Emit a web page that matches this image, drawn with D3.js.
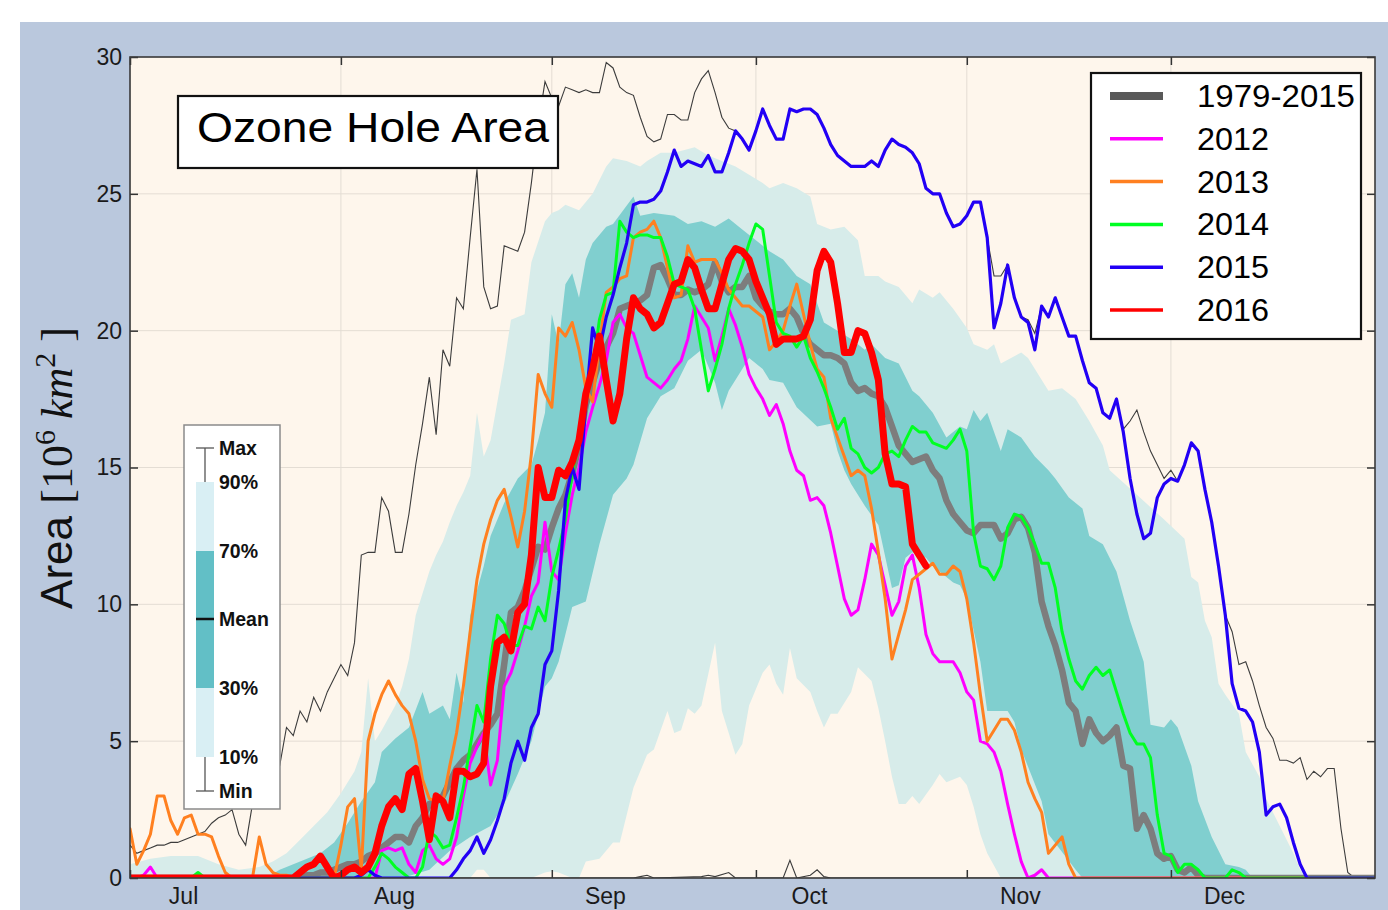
<!DOCTYPE html>
<html><head><meta charset="utf-8">
<script src="https://cdn.jsdelivr.net/npm/d3@7"></script>
<style>
body{margin:0;background:#fff}
svg{display:block}
</style>
</head><body>
<svg id="chart" width="1388" height="910"></svg>
<script>
// ---- Ozone hole area, Jul 1 (day 0) to Dec 31 (day 183), million km^2 ----
const monthStarts = [0, 31, 62, 92, 123, 153];
const monthNames  = ["Jul", "Aug", "Sep", "Oct", "Nov", "Dec"];
const yTicks      = [0, 5, 10, 15, 20, 25, 30];

// climatology 1979-2015: percentile envelopes as [day, value]
const p90 = [[0,0.5],[3,0.7],[6,0.8],[10,0.8],[13,0.5],[16,0.3],[19,0.4],[21,0.6],[23,0.9],[25,1.4],[27,1.9],[29,2.4],[31,3.1],[33,3.9],[34,4.6],[35,7.3],[36,5.0],[37,5.4],[39,6.3],[40,7.0],[41,8.0],[42,9.6],[43,10.4],[44,11.2],[45,11.8],[46,12.3],[47,13.0],[48,13.6],[49,14.1],[50,14.7],[51,17.0],[52,15.4],[53,16.0],[55,18.8],[56,20.4],[57,20.5],[58,20.6],[59,22.5],[61,24.0],[62,24.3],[63,24.4],[64,24.6],[66,24.4],[68,25.0],[70,26.0],[71,26.3],[73,26.2],[75,26.0],[76,26.2],[78,26.5],[80,26.5],[83,26.7],[85,26.4],[87,26.2],[89,26.0],[91,25.7],[93,25.4],[94,25.2],[96,25.4],[98,25.2],[100,24.9],[101,23.9],[103,23.7],[105,23.8],[107,23.3],[108,22.0],[110,22.0],[111,21.8],[113,21.6],[115,21.0],[116,21.5],[118,21.2],[119,21.4],[121,20.8],[123,20.1],[124,19.5],[126,19.3],[127,19.5],[128,18.8],[131,19.2],[132,19.0],[135,17.8],[137,17.9],[139,17.5],[141,16.7],[143,15.8],[144,14.9],[148,14.0],[152,13.1],[155,12.4],[156,11.0],[157,10.8],[158,9.4],[159,8.8],[160,7.1],[161,6.7],[163,6.0],[164,4.6],[166,3.7],[167,2.9],[169,1.9],[171,0.9],[172,0.3],[173,0],[183,0]];
const p70 = [[0,0],[20,0],[22,0.3],[24,0.5],[26,0.7],[28,0.9],[30,1.3],[32,2.0],[34,2.8],[36,3.5],[37,4.6],[39,5.1],[41,5.5],[43,6.8],[44,6.0],[46,6.3],[47,5.8],[48,7.5],[49,6.4],[50,9.6],[52,11.4],[53,12.5],[55,13.7],[57,14.6],[59,15.1],[60,16.0],[61,17.0],[62,20.6],[63,19.5],[64,21.7],[65,22.1],[66,21.2],[67,22.6],[68,23.2],[70,23.8],[71,23.9],[74,24.9],[75,24.2],[77,24.3],[80,24.2],[82,23.9],[84,24.0],[86,23.8],[88,24.1],[90,23.7],[92,23.3],[94,22.9],[96,22.6],[98,22.0],[100,21.7],[101,21.0],[102,20.3],[104,20.0],[106,19.7],[108,19.3],[109,19.5],[111,19.0],[113,18.8],[115,17.8],[116,17.6],[118,17.0],[120,16.1],[122,16.5],[123,16.4],[124,17.1],[125,16.7],[126,17.0],[128,15.6],[129,16.4],[131,16.1],[133,15.4],[135,14.9],[136,14.6],[138,13.9],[140,13.5],[141,12.5],[143,12.2],[145,11.2],[146,10.3],[147,9.4],[149,7.9],[150,5.6],[152,5.5],[153,5.8],[154,5.5],[156,4.1],[157,2.8],[159,1.5],[161,0.5],[163,0.4],[164,0.3],[165,0],[183,0]];
const p30 = [[0,0],[40,0],[44,0.3],[47,1.0],[50,1.5],[53,1.9],[55,2.7],[57,3.8],[59,5.0],[61,7.0],[62,7.3],[63,7.9],[65,9.9],[67,10.1],[69,12.2],[71,14.0],[73,14.6],[74,15.1],[76,16.8],[78,17.6],[80,17.9],[82,18.9],[84,19.3],[86,18.1],[87,17.1],[88,17.8],[90,18.6],[91,19.0],[93,18.6],[94,18.2],[96,18.1],[98,17.2],[101,16.5],[103,16.6],[104,15.6],[105,14.9],[106,14.4],[108,13.6],[110,12.9],[112,10.6],[113,10.7],[114,11.7],[115,11.9],[117,11.7],[118,11.4],[121,10.8],[122,10.7],[123,10.2],[125,7.9],[126,6.1],[129,6.1],[130,5.7],[131,4.7],[134,2.8],[135,1.6],[139,0.3],[140,0],[183,0]];
const p10 = [[0,0],[50,0],[51,0.3],[52,0.3],[53,0],[59,0],[60,0.1],[61,0.2],[62,0.25],[63,0.2],[64,0.1],[65,0],[66,0],[67,0.6],[69,0.7],[71,1.3],[72,1.3],[74,3.3],[76,4.5],[77,4.7],[79,6.1],[80,5.3],[81,5.4],[82,6.2],[83,6.0],[84,6.3],[86,8.6],[87,6.1],[89,4.5],[90,4.9],[91,6.3],[93,7.5],[94,7.8],[95,7.1],[96,6.7],[97,8.4],[98,7.3],[100,6.8],[101,6.1],[102,5.5],[103,6.0],[104,6.0],[106,6.8],[107,7.7],[109,7.2],[110,6.2],[111,5.0],[112,3.7],[113,2.7],[114,2.7],[115,3.0],[116,2.7],[118,3.4],[119,3.8],[120,3.5],[122,3.7],[123,3.4],[124,2.6],[125,1.6],[126,0.9],[128,0],[183,0]];
const minArea = [[0,0],[74,0],[75,0.05],[76,0.1],[77,0],[84,0.05],[85,0.1],[86,0.05],[88,0.2],[89,0],[96,0],[97,0.65],[98,0],[100,0.1],[101,0.3],[102,0.05],[103,0],[183,0]];

// daily values from day 0
const maxArea = [1.2,0.9,1.0,1.1,1.2,1.2,1.3,1.3,1.4,1.5,1.6,1.7,2.0,2.2,2.3,2.5,1.6,1.2,2.7,3.0,3.3,3.6,4.1,5.5,5.2,6.1,5.7,6.6,6.1,6.8,
  7.3,7.8,7.4,8.6,11.8,11.9,11.9,13.9,13.4,11.9,11.9,13.3,15.1,16.6,18.3,16.2,19.3,18.7,21.2,20.8,23.4,25.9,21.6,20.8,20.9,23.1,23.0,22.9,23.6,25.4,
  27.5,29.1,28.5,28.2,28.9,28.8,28.7,28.8,28.7,28.7,29.8,29.6,28.9,28.7,28.6,27.8,27.1,26.9,27.0,27.9,27.9,27.7,27.7,28.7,29.2,29.5,28.7,27.8,27.4,27.3,
  27.0,26.6,27.3,28.1,27.5,27.0,27.0,28.1,28.0,28.1,28.1,27.9,27.4,26.8,26.4,26.2,26.0,26.0,26.0,26.2,26.0,26.6,27.0,26.8,26.7,26.5,26.1,25.2,25.0,25.0,
  24.3,23.8,23.9,24.2,24.7,24.7,23.4,22.0,22.0,22.4,21.2,20.5,20.4,19.9,20.9,20.5,21.2,20.5,19.8,19.8,18.9,18.1,17.9,17.0,16.8,17.5,16.4,16.7,17.1,16.3,
  15.6,15.1,14.6,14.9,14.5,15.1,15.9,15.6,14.2,13.0,11.4,9.6,9.0,7.8,7.9,7.2,6.3,5.5,5.1,4.3,4.3,4.2,4.4,3.6,3.9,3.7,4.0,4.0,1.8,0.2,
  0,0,0,0];
const mean7915 = [0,0,0,0,0,0,0,0,0,0,0,0,0,0,0,0,0,0,0,0,0,0,0,0,0,0,0.1,0.1,0.2,0.2,
  0.3,0.4,0.5,0.5,0.6,0.8,0.9,1.1,1.3,1.5,1.5,1.3,1.9,2.2,2.7,2.8,3.0,3.5,4.0,4.3,4.5,4.9,5.3,5.6,6.0,7.8,9.7,9.9,10.5,11.3,
  12.1,12.0,12.8,13.5,14.0,14.8,15.8,17.3,18.1,18.9,19.4,19.9,20.8,20.9,21.0,21.1,21.3,22.3,22.4,21.9,21.3,21.3,21.5,21.4,21.5,21.7,22.5,21.8,21.4,21.6,
  21.6,22.0,21.2,20.9,20.7,20.6,20.6,20.8,20.5,19.9,19.5,19.3,19.1,19.1,19.0,18.8,18.1,17.8,17.9,17.7,17.6,17.2,16.5,15.8,15.5,15.2,15.3,15.4,14.9,14.6,
  13.8,13.3,13.0,12.7,12.6,12.9,12.9,12.9,12.4,12.6,13.1,13.2,12.8,11.9,10.1,9.2,8.5,7.6,6.4,6.1,4.9,5.8,5.3,5.0,5.2,5.5,4.1,4.0,1.8,2.3,
  1.8,0.9,0.7,0.8,0.3,0.2,0.4,0.1,0,0,0,0,0,0,0,0,0,0,0,0,0,0,0,0,0,0,0,0,0,0,
  0,0,0,0];
const y2012 = [0,0,0.1,0.4,0,0,0,0,0,0,0,0,0,0,0,0,0,0,0,0,0,0,0,0,0,0,0,0,0,0,
  0,0,0,0,0,0,0,1.0,1.1,1.0,1.1,0.5,0.2,1.0,1.2,0.7,0.5,0.7,1.5,3.0,4.2,4.8,5.3,3.4,4.3,7.0,7.5,8.3,9.2,10.3,
  10.8,13.0,11.2,10.9,12.6,14.0,15.0,16.3,17.2,18.0,18.9,20.3,20.6,20.1,19.9,19.1,18.3,18.1,17.9,18.2,18.6,18.9,19.7,20.9,20.5,20.1,18.9,19.8,20.8,20.2,
  19.4,18.4,17.9,17.5,16.9,17.3,16.6,15.6,14.9,14.7,13.8,13.9,13.6,12.6,11.4,10.2,9.6,9.8,10.9,12.2,11.8,10.7,9.6,10.1,11.4,11.8,10.6,8.9,8.2,7.9,
  7.9,7.9,7.5,6.8,6.5,5.0,4.9,4.6,3.9,2.7,1.6,0.6,0,0.1,0.3,0,0,0,0,0,0,0,0,0,0,0,0,0,0,0,
  0,0,0,0,0,0,0,0,0,0,0,0,0,0,0,0,0,0,0,0,0,0,0,0,0,0,0,0,0,0,
  0,0,0,0];
const y2013 = [1.8,0.5,1.0,1.6,3.0,3.0,2.1,1.6,2.2,2.3,1.6,1.6,1.5,0.8,0.2,0,0,0,0,1.5,0.5,0.2,0.1,0.1,0,0,0,0,0,0,
  0,1.2,2.6,2.9,0.3,5.0,6.0,6.7,7.2,6.7,6.3,6.0,5.0,3.6,2.9,2.8,2.8,4.1,5.3,7.0,9.0,10.9,12.2,13.1,13.8,14.2,13.2,12.1,13.4,15.5,
  18.4,17.7,17.2,20.1,19.8,20.3,19.3,17.9,17.4,19.5,21.4,21.6,21.9,22.0,23.4,23.6,23.7,24.0,23.4,22.3,21.2,21.3,23.1,22.5,22.6,22.6,22.6,22.1,21.5,21.2,
  20.9,20.9,20.7,20.5,19.3,19.6,20.0,20.9,21.7,20.6,19.5,18.6,18.3,16.8,16.1,15.4,14.7,14.9,14.7,13.5,11.9,10.2,8.0,8.9,9.8,10.9,11.1,11.3,11.5,11.1,
  11.1,11.4,11.2,10.2,8.6,6.7,5.0,5.4,5.8,5.8,5.4,4.6,3.5,2.9,2.4,0.9,1.2,1.5,0.5,0,0,0,0,0,0,0,0,0,0,0,
  0,0,0,0,0,0,0,0,0,0,0,0,0,0,0,0,0,0,0,0,0,0,0,0,0,0,0,0,0,0,
  0,0,0,0];
const y2014 = [0,0,0,0,0,0,0,0,0,0,0.2,0,0,0,0,0,0,0,0,0,0,0,0,0,0,0,0,0,0,0,
  0,0,0,0,0,0,0.4,0.9,0.7,0.4,0.2,0,0,0.4,1.7,1.5,1.1,1.2,2.2,3.3,4.8,6.3,5.7,8.0,9.6,9.3,8.5,8.5,9.2,9.1,
  9.9,9.4,11.0,12.0,13.1,14.8,16.0,17.5,18.6,20.4,21.3,21.4,24.0,23.6,23.4,23.5,23.5,23.4,23.4,22.7,21.7,21.6,21.5,20.8,19.3,17.8,18.6,19.5,20.8,21.7,
  22.4,23.2,23.9,23.7,22.0,20.3,19.9,19.8,19.4,19.8,19.0,18.5,17.9,17.2,16.4,16.8,15.7,15.5,15.0,14.8,15.0,15.5,15.6,15.4,16.0,16.5,16.3,16.3,15.9,15.8,
  15.7,16.0,16.4,15.6,12.6,11.4,11.3,10.9,11.4,12.8,13.3,13.2,12.8,12.2,11.5,11.5,10.6,9.0,8.0,7.2,6.9,7.4,7.7,7.4,7.6,6.8,6.0,5.3,4.9,4.9,
  4.4,2.3,0.9,0.8,0.2,0.5,0.5,0.3,0,0,0,0,0.3,0.2,0,0,0,0,0,0,0,0,0,0,0,0,0,0,0,0,
  0,0,0,0];
const y2015 = [0,0,0,0,0,0,0,0,0,0,0,0,0,0,0,0,0,0,0,0,0,0,0,0,0,0,0,0,0,0,
  0,0,0,0,0.1,0.3,0.1,0,0,0,0,0,0,0,0,0,0,0,0.3,0.7,1.0,1.5,0.9,1.4,2.1,2.9,4.2,5.0,4.3,5.5,
  6.0,7.8,8.3,10.5,13.8,15.0,14.2,17.3,20.1,19.3,20.5,21.3,22.3,23.2,24.6,24.7,24.7,24.8,25.1,25.8,26.6,26.0,26.2,26.1,26.0,26.4,25.8,25.8,26.5,27.3,
  27.0,26.6,27.3,28.1,27.5,27.0,27.0,28.1,28.0,28.1,28.1,27.9,27.4,26.8,26.4,26.2,26.0,26.0,26.0,26.2,26.0,26.6,27.0,26.8,26.7,26.5,26.1,25.2,25.0,25.0,
  24.3,23.8,23.9,24.2,24.7,24.7,23.4,20.1,21.0,22.4,21.2,20.5,20.3,19.3,20.9,20.5,21.2,20.5,19.8,19.8,18.9,18.1,17.9,17.0,16.8,17.5,16.3,14.6,13.3,12.4,
  12.6,13.9,14.4,14.6,14.5,15.1,15.9,15.6,14.2,13.0,11.4,9.6,7.1,6.2,6.1,5.7,4.6,2.3,2.6,2.7,2.2,1.3,0.5,0,0,0,0,0,0,0,
  0,0,0,0];
const y2016 = [0,0,0,0,0,0,0,0,0,0,0,0,0,0,0,0,0,0,0,0,0,0,0,0,0,0.2,0.4,0.5,0.8,0.4,
  0,0.1,0.3,0.4,0.2,0.4,0.9,1.9,2.6,2.9,2.5,3.8,4.0,2.8,1.4,3.0,2.8,2.2,3.9,3.9,3.7,3.8,4.2,7.0,8.6,8.8,8.3,9.7,10.0,11.8,
  15.0,13.9,13.9,14.9,14.7,15.2,16.0,17.7,18.6,19.8,18.2,16.7,17.7,19.7,21.2,20.8,20.6,20.1,20.3,21.0,21.7,21.8,22.6,22.3,21.5,20.8,20.8,21.7,22.6,23.0,
  22.9,22.6,21.8,21.2,20.6,19.5,19.7,19.7,19.7,19.8,20.4,22.2,22.9,22.5,21.0,19.2,19.2,20.0,19.9,19.2,18.2,15.5,14.4,14.4,14.3,12.2,11.8,11.4];

const years = [
  {name: "2012", values: y2012, color: "#ff00ff", width: 3},
  {name: "2013", values: y2013, color: "#ff8020", width: 3},
  {name: "2014", values: y2014, color: "#00ff22", width: 3},
  {name: "2015", values: y2015, color: "#2200f5", width: 3.2},
  {name: "2016", values: y2016, color: "#ff0000", width: 7}
];

// ---- layout ----
const svg = d3.select("#chart");
const W = 1388, H = 910;
const plot = {left: 130, right: 1375, top: 57, bottom: 878};
const x = d3.scaleLinear().domain([0, 183]).range([plot.left, plot.right]);
const y = d3.scaleLinear().domain([0, 30]).range([plot.bottom, plot.top]);

const col = {
  page: "#bac8dd", bg: "#fef6ec", light: "#d7ecea", dark: "#80cfcf",
  grid: "#e4ddd4", spine: "#3a3a3a", mean: "#7d7d7d", extreme: "#3c3c3c"
};

svg.append("rect").attr("x", 20).attr("y", 22).attr("width", W - 20).attr("height", H - 22).attr("fill", col.page);

svg.append("clipPath").attr("id", "plotclip").append("rect")
  .attr("x", plot.left).attr("y", plot.top)
  .attr("width", plot.right - plot.left).attr("height", plot.bottom - plot.top);

const g = svg.append("g").attr("clip-path", "url(#plotclip)");
g.append("rect").attr("x", plot.left).attr("y", plot.top)
  .attr("width", plot.right - plot.left).attr("height", plot.bottom - plot.top).attr("fill", col.bg);

// grid
g.selectAll(".hgrid").data(yTicks).join("line")
  .attr("x1", plot.left).attr("x2", plot.right)
  .attr("y1", d => y(d)).attr("y2", d => y(d))
  .attr("stroke", col.grid).attr("stroke-width", 1);
g.selectAll(".vgrid").data(monthStarts).join("line")
  .attr("y1", plot.top).attr("y2", plot.bottom)
  .attr("x1", d => x(d)).attr("x2", d => x(d))
  .attr("stroke", col.grid).attr("stroke-width", 1);

// percentile envelopes painted from the outer band inwards
const underArea = d3.area().x(d => x(d[0])).y0(y(0)).y1(d => y(d[1]));
[[p90, col.light], [p70, col.dark], [p30, col.light], [p10, col.bg]].forEach(([band, fill]) => {
  g.append("path").datum(band).attr("d", underArea).attr("fill", fill);
});

const pairLine = d3.line().x(d => x(d[0])).y(d => y(d[1]));
const dailyLine = d3.line().x((d, i) => x(i)).y(d => y(d));

g.append("path").datum(maxArea).attr("d", dailyLine)
  .attr("fill", "none").attr("stroke", col.extreme).attr("stroke-width", 1.1);
g.append("path").datum(minArea).attr("d", pairLine)
  .attr("fill", "none").attr("stroke", col.extreme).attr("stroke-width", 1.1);

g.append("path").datum(mean7915).attr("d", dailyLine)
  .attr("fill", "none").attr("stroke", col.mean).attr("stroke-width", 6.5)
  .attr("stroke-linejoin", "round");

years.forEach(s => {
  g.append("path").datum(s.values).attr("d", dailyLine)
    .attr("fill", "none").attr("stroke", s.color).attr("stroke-width", s.width)
    .attr("stroke-linejoin", "round").attr("stroke-linecap", "round");
});

// ---- axes ----
const tickFont = "'Liberation Sans', Arial, sans-serif";
const axL = svg.append("g").attr("transform", `translate(${plot.left},0)`)
  .call(d3.axisLeft(y).tickValues(yTicks).tickSize(-8).tickPadding(8).tickFormat(d3.format("d")));
const axR = svg.append("g").attr("transform", `translate(${plot.right},0)`)
  .call(d3.axisRight(y).tickValues(yTicks).tickSize(-8).tickFormat(""));
const axB = svg.append("g").attr("transform", `translate(0,${plot.bottom})`)
  .call(d3.axisBottom(x).tickValues(monthStarts).tickSize(-8).tickPadding(12)
    .tickFormat((d, i) => monthNames[i]));
const axT = svg.append("g").attr("transform", `translate(0,${plot.top})`)
  .call(d3.axisTop(x).tickValues(monthStarts).tickSize(-8).tickFormat(""));
[axL, axR, axB, axT].forEach(a => {
  a.select(".domain").remove();
  a.selectAll(".tick line").attr("stroke", "#333").attr("stroke-width", 1.5);
  a.selectAll("text").attr("font-family", tickFont).attr("font-size", 23).attr("fill", "#1a1a1a");
});
// month names sit a week into each month
axB.selectAll(".tick text").attr("x", x(7.8) - x(0)).attr("dy", "0.62em");

svg.append("rect").attr("x", plot.left).attr("y", plot.top)
  .attr("width", plot.right - plot.left).attr("height", plot.bottom - plot.top)
  .attr("fill", "none").attr("stroke", col.spine).attr("stroke-width", 1.6);

// y-axis title
const yt = svg.append("text").attr("transform", "translate(72,468) rotate(-90)")
  .attr("text-anchor", "middle").attr("font-size", 44).attr("fill", "#111")
  .attr("font-family", tickFont);
yt.append("tspan").text("Area ");
yt.append("tspan").attr("font-family", "'Liberation Serif', 'DejaVu Serif', serif").text("[10");
yt.append("tspan").attr("font-family", "'Liberation Serif', serif").attr("font-size", 30).attr("dy", -17).text("6");
yt.append("tspan").attr("font-family", "'Liberation Serif', serif").attr("font-style", "italic").attr("dy", 17).text(" km");
yt.append("tspan").attr("font-family", "'Liberation Serif', serif").attr("font-size", 30).attr("dy", -17).text("2");
yt.append("tspan").attr("font-family", "'Liberation Serif', serif").attr("dy", 17).text(" ]");

// title box
svg.append("rect").attr("x", 178).attr("y", 96).attr("width", 380).attr("height", 72)
  .attr("fill", "#fff").attr("stroke", "#111").attr("stroke-width", 2.2);
svg.append("text").attr("x", 197).attr("y", 142).attr("font-family", tickFont)
  .attr("font-size", 43).attr("fill", "#000").attr("textLength", 352).attr("lengthAdjust", "spacingAndGlyphs")
  .text("Ozone Hole Area");

// series legend
const legendItems = [{name: "1979-2015", color: "#595959", width: 8}].concat(years);
const lg = svg.append("g");
lg.append("rect").attr("x", 1091).attr("y", 73).attr("width", 270).attr("height", 266)
  .attr("fill", "#fff").attr("stroke", "#111").attr("stroke-width", 2.2);
legendItems.forEach((s, i) => {
  const cy = 96 + i * 42.8;
  lg.append("line").attr("x1", 1110).attr("x2", 1163).attr("y1", cy).attr("y2", cy)
    .attr("stroke", s.color).attr("stroke-width", i === 0 ? 8 : 3.5);
  lg.append("text").attr("x", 1197).attr("y", cy + 11).attr("font-family", tickFont)
    .attr("font-size", 31).attr("fill", "#000")
    .attr("textLength", s.name.length > 4 ? 158 : 72).attr("lengthAdjust", "spacingAndGlyphs")
    .text(s.name);
});

// percentile key
const pk = svg.append("g");
pk.append("rect").attr("x", 184).attr("y", 425).attr("width", 96).attr("height", 384)
  .attr("fill", "#fff").attr("stroke", "#8a8a8a").attr("stroke-width", 1.5);
const keyRows = [
  {label: "Max", y: 448}, {label: "90%", y: 482}, {label: "70%", y: 551},
  {label: "Mean", y: 619}, {label: "30%", y: 688}, {label: "10%", y: 757}, {label: "Min", y: 791}
];
const kx0 = 196, kx1 = 214, kxm = 205;
pk.append("line").attr("x1", kxm).attr("x2", kxm).attr("y1", 448).attr("y2", 482).attr("stroke", "#555").attr("stroke-width", 1.3);
pk.append("line").attr("x1", kxm).attr("x2", kxm).attr("y1", 757).attr("y2", 791).attr("stroke", "#555").attr("stroke-width", 1.3);
[448, 791].forEach(v => pk.append("line").attr("x1", kx0).attr("x2", kx1).attr("y1", v).attr("y2", v).attr("stroke", "#555").attr("stroke-width", 1.3));
pk.append("rect").attr("x", kx0).attr("y", 482).attr("width", kx1 - kx0).attr("height", 757 - 482).attr("fill", "#d9eff4");
pk.append("rect").attr("x", kx0).attr("y", 551).attr("width", kx1 - kx0).attr("height", 688 - 551).attr("fill", "#62bfc6");
pk.append("line").attr("x1", kx0).attr("x2", kx1).attr("y1", 619).attr("y2", 619).attr("stroke", "#111").attr("stroke-width", 2.5);
pk.selectAll(".klab").data(keyRows).join("text")
  .attr("x", 219).attr("y", d => d.y).attr("dy", "0.36em")
  .attr("font-family", tickFont).attr("font-weight", "bold").attr("font-size", 19.5).attr("fill", "#111")
  .text(d => d.label);
</script>
</body></html>
